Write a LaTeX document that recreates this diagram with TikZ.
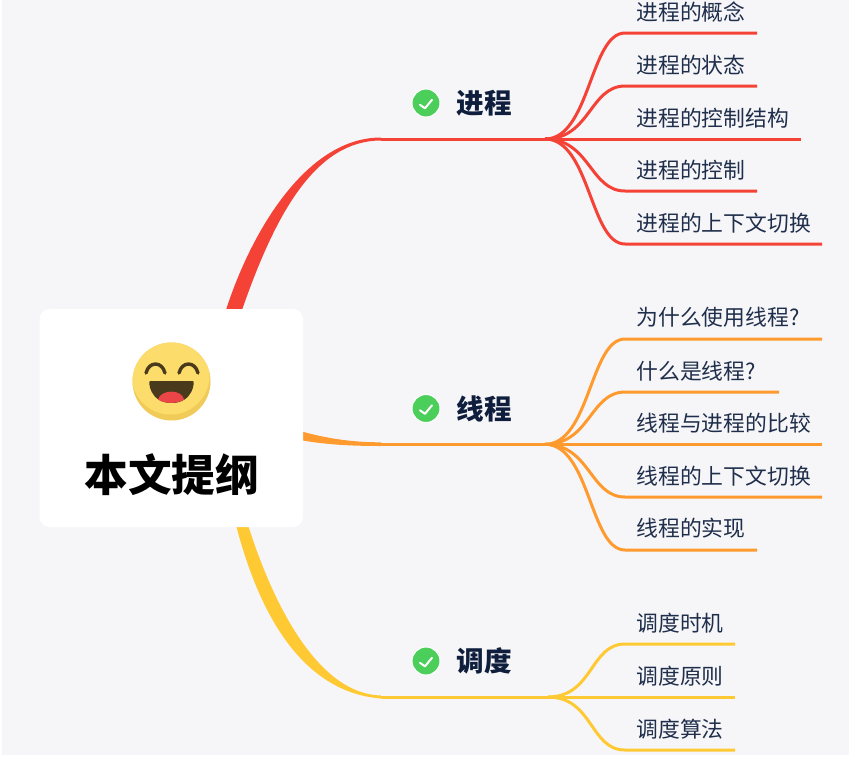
\documentclass[tikz,border=0pt]{standalone}
\usepackage{fontspec}
\setmainfont{Noto Sans CJK SC}
\usetikzlibrary{backgrounds}
\definecolor{pagebg}{HTML}{F6F6F9}
\definecolor{cred}{HTML}{F44336}
\definecolor{corange}{HTML}{FF9A2E}
\definecolor{cyellow}{HTML}{FFC933}
\definecolor{leafink}{HTML}{1F2E4A}
\definecolor{headink}{HTML}{0E1E3C}
\definecolor{checkgreen}{HTML}{4CCF5A}
\definecolor{faceshade}{HTML}{F0CB58}
\definecolor{facelight}{HTML}{FCDC6A}
\definecolor{facedark}{HTML}{4A3A1C}
\definecolor{tongue}{HTML}{EC4548}
\tikzset{
  x=1pt,y=-1pt,
  leaftext/.style={anchor=west,inner sep=0pt,text=leafink,font=\fontsize{21.8}{26}\selectfont},
  headtext/.style={anchor=west,inner sep=0pt,text=headink,font=\fontsize{27.6}{32}\selectfont\bfseries},
  roottext/.style={inner sep=0pt,text=black,font=\fontsize{43.6}{50}\selectfont\bfseries},
  card/.style={fill=white,rounded corners=10pt,minimum width=263.5pt,minimum height=218pt,inner sep=0pt,draw=none},
  checkdisc/.style={circle,fill=checkgreen,draw=white,line width=1pt,minimum size=28pt,inner sep=0pt},
  checkmark/.style={draw=white,line width=2pt,line cap=round,line join=round},
  wire/.style={line width=3pt},
}
\begin{document}
\begin{tikzpicture}
\useasboundingbox (0,0) rectangle (859,772);
% nodes
\node[card] (root) at (171.25,418) {};
\node[roottext] (title) at (171.6,475) {本文提纲};
% face
\fill[faceshade] (171.5,381.5) circle (39);
\begin{scope}
  \clip (171.5,381.5) circle (39);
  \fill[facelight] (170.5,375.5) circle (39);
\end{scope}
\draw[facedark,line width=3.4pt,line cap=round] (146,373) .. controls (149,361) and (162,361) .. (165,373);
\draw[facedark,line width=3.4pt,line cap=round] (179,373) .. controls (182,361) and (195,361) .. (198,373);
\fill[facedark] (150,381) -- (193,381) .. controls (195,381) and (193.5,403) .. (171.5,403) .. controls (149.5,403) and (148,381) .. (150,381) -- cycle;
\fill[tongue] (158,399.5) .. controls (161,389) and (182,389) .. (184,399.5) .. controls (178,404) and (164,404) .. (158,399.5) -- cycle;
% headings
\foreach \nm/\y/\txt in {a/103/进程,b/408.5/线程,c/661/调度}{
  \node[checkdisc] (chk\nm) at (426,\y) {};
  \draw[checkmark] ([shift={(-6,1.8)}]chk\nm.center) -- ([shift={(-1,5.3)}]chk\nm.center) -- ([shift={(6,-3.2)}]chk\nm.center);
  \node[headtext] (head\nm) at (456.2,\y) {\txt};
}
% leaf texts
\foreach \nm/\y/\txt in {
  a1/12/进程的概念,a2/65/进程的状态,a3/118/进程的控制结构,a4/170/进程的控制,a5/223/进程的上下文切换,
  b1/317/为什么使用线程?,b2/371/什么是线程?,b3/423/线程与进程的比较,b4/476/线程的上下文切换,b5/528/线程的实现,
  c1/623/调度时机,c2/676/调度原则,c3/729/调度算法}{
  \node[leaftext] (\nm) at (636.2,\y) {\txt};
}
% connector anchor points
\coordinate (ja) at (381,139); \coordinate (jb) at (381,444.3); \coordinate (jc) at (381,697);
\coordinate (huba) at (545,139); \coordinate (hubb) at (545,444.3); \coordinate (hubc) at (548,697);
\begin{scope}[on background layer]
\fill[pagebg] (2,0) rectangle (849,755);
% tapered main branches
\fill[cred] (226,310) .. controls (250,235) and (305,137.5) .. (381,137.5) -- (381,140.5) .. controls (315,140.5) and (275,215) .. (242,310) -- cycle;
\fill[corange] (300,431) .. controls (325,438) and (350,442.3) .. (381,442.3) -- (381,446) .. controls (350,446) and (325,444.5) .. (300,440) -- cycle;
\fill[cyellow] (236,525) .. controls (258,610) and (300,692) .. (381,698.5) -- (381,695.5) .. controls (320,694) and (275,610) .. (248,525) -- cycle;
% trunk lines
\draw[cred,wire] (ja) -- (huba);
\draw[corange,wire] (jb) -- (hubb);
\draw[cyellow,wire] (jc) -- (hubc);
% leaf connectors
\foreach \hub/\col/\y/\xe in {
  huba/cred/33/757,huba/cred/86/757,huba/cred/139/801,huba/cred/191/757,huba/cred/244/822,
  hubb/corange/339/822,hubb/corange/392/779,hubb/corange/444.3/822,hubb/corange/497/822,hubb/corange/550/757,
  hubc/cyellow/644/735,hubc/cyellow/697/735,hubc/cyellow/750/735}{
  \coordinate (e) at (\xe,\y);
  \coordinate (k) at (625,\y);
  \draw[\col,wire] (\hub) .. controls ([xshift=45pt]\hub) and (590,\y) .. (k) -- (e);
}
\end{scope}
\end{tikzpicture}
\end{document}
